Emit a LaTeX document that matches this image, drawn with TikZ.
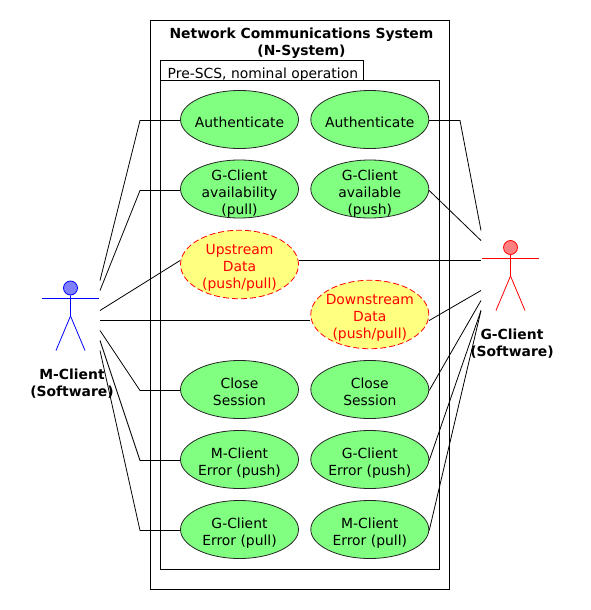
\documentclass[tikz,border=0pt]{standalone}
\usepackage{fontspec}
\setmainfont{DejaVu Sans}
\newcommand{\ucl}[2][3.6pt]{\raisebox{-#1}[\height][\depth]{\begin{tabular}{@{}c@{}}#2\end{tabular}}}
\tikzset{
  x=1pt,y=-1pt,
  uc/.style={ellipse,draw=black!85,fill=ucgreen,line width=0.8pt,minimum width=118pt,minimum height=58pt,inner sep=-30pt,font=\fontsize{13.9}{17}\selectfont},
  ucd/.style={uc,draw=red,fill=ucyellow,text=red,dash pattern=on 6pt off 3pt,minimum height=68.5pt},
  conn/.style={draw=black,line width=0.8pt},
  frame/.style={draw=black,line width=0.8pt},
  actorlabel/.style={align=center,font=\fontsize{13.9}{17}\selectfont\bfseries},
}
\definecolor{ucgreen}{RGB}{128,255,128}
\definecolor{ucyellow}{RGB}{255,255,128}
\definecolor{headblue}{RGB}{128,128,255}
\definecolor{headred}{RGB}{255,128,128}
\usetikzlibrary{shapes.geometric}
\begin{document}
\begin{tikzpicture}
\useasboundingbox (0,0) rectangle (590,610);
\draw[frame] (150.5,20.5) rectangle (449.5,589.5);
\draw[frame] (160.5,60.5) rectangle (363.5,80.5);
\draw[frame] (160.5,80.5) rectangle (439.5,569.5);
\node[font=\fontsize{13.9}{17}\selectfont\bfseries,align=center] (sys) at (301.5,43) {Network Communications System\\(N-System)};
\node[font=\fontsize{13.9}{17}\selectfont,anchor=base west,inner sep=0pt] (pkg) at (167.5,78) {Pre-SCS, nominal operation};

\node[uc] (la) at (239.5,119.5) {\ucl[5pt]{Authenticate}};
\node[uc] (lb) at (239.5,189) {\ucl[5pt]{G-Client\\availability\\(pull)}};
\node[ucd] (lc) at (239.5,264.5) {\ucl{Upstream\\Data\\(push/pull)}};
\node[uc] (ld) at (239.5,389.5) {\ucl{Close\\Session}};
\node[uc] (le) at (239.5,459.5) {\ucl{M-Client\\Error (push)}};
\node[uc] (lf) at (239.5,529.5) {\ucl{G-Client\\Error (pull)}};
\node[uc] (ra) at (369.8,119.5) {\ucl[5pt]{Authenticate}};
\node[uc] (rb) at (369.8,189) {\ucl[5pt]{G-Client\\available\\(push)}};
\node[ucd] (rc) at (369.8,314.5) {\ucl{Downstream\\Data\\(push/pull)}};
\node[uc] (rd) at (369.8,389.5) {\ucl{Close\\Session}};
\node[uc] (re) at (369.8,459.5) {\ucl{G-Client\\Error (push)}};
\node[uc] (rf) at (369.8,529.5) {\ucl{M-Client\\Error (pull)}};

\node[circle,draw=blue,fill=headblue,line width=0.8pt,minimum size=14pt,inner sep=0pt] (mh) at (70.5,288) {};
\coordinate (mhip) at (70.5,316);
\draw[blue,line width=0.8pt] (mh.south) -- (mhip) -- (56,350.5);
\draw[blue,line width=0.8pt] (mhip) -- (85,350.5);
\draw[blue,line width=0.8pt] (42,298.5) -- (99,298.5);
\node[actorlabel] (ml) at (72,383.5) {M-Client\\(Software)};

\node[circle,draw=red,fill=headred,line width=0.8pt,minimum size=14pt,inner sep=0pt] (gh) at (510.5,247.5) {};
\coordinate (ghip) at (510.5,276);
\draw[red,line width=0.8pt] (gh.south) -- (ghip) -- (496,310.5);
\draw[red,line width=0.8pt] (ghip) -- (525,310.5);
\draw[red,line width=0.8pt] (482,258.5) -- (539,258.5);
\node[actorlabel] (gl) at (512,343.5) {G-Client\\(Software)};

\foreach \n/\y in {1/280.5,2/290.5,3/310.5,4/320.5,5/330.5,6/340.5,7/350.5}
  \coordinate (mp\n) at (100,\y);
\foreach \n/\y in {1/230.5,2/240.5,3/260.5,4/290.5,5/300.5,6/310.5}
  \coordinate (gp\n) at (481,\y);

\draw[conn] (mp1) -- (140,120.5) -- (la.west |- 0,120.5);
\draw[conn] (mp2) -- (140,190.5) -- (lb.west |- 0,190.5);
\draw[conn] (mp3) -- (lc.west |- 0,260.5);
\draw[conn] (mp4) -- (rc.west |- 0,320.5);
\draw[conn] (mp5) -- (140,390.5) -- (ld.west |- 0,390.5);
\draw[conn] (mp6) -- (140,460.5) -- (le.west |- 0,460.5);
\draw[conn] (mp7) -- (140,530.5) -- (lf.west |- 0,530.5);

\draw[conn] (ra.east |- 0,120.5) -- (460,120.5) -- (gp1);
\draw[conn] (rb.east |- 0,190.5) -- (gp2);
\draw[conn] (lc.east |- 0,260.5) -- (gp3);
\draw[conn] (rc.east |- 0,320.5) -- (gp4);
\draw[conn] (rd.east |- 0,390.5) -- (gp5);
\draw[conn] (re.east |- 0,460.5) -- (gp6);
\draw[conn] (rf.east |- 0,530.5) -- (gp6);
\end{tikzpicture}
\end{document}
